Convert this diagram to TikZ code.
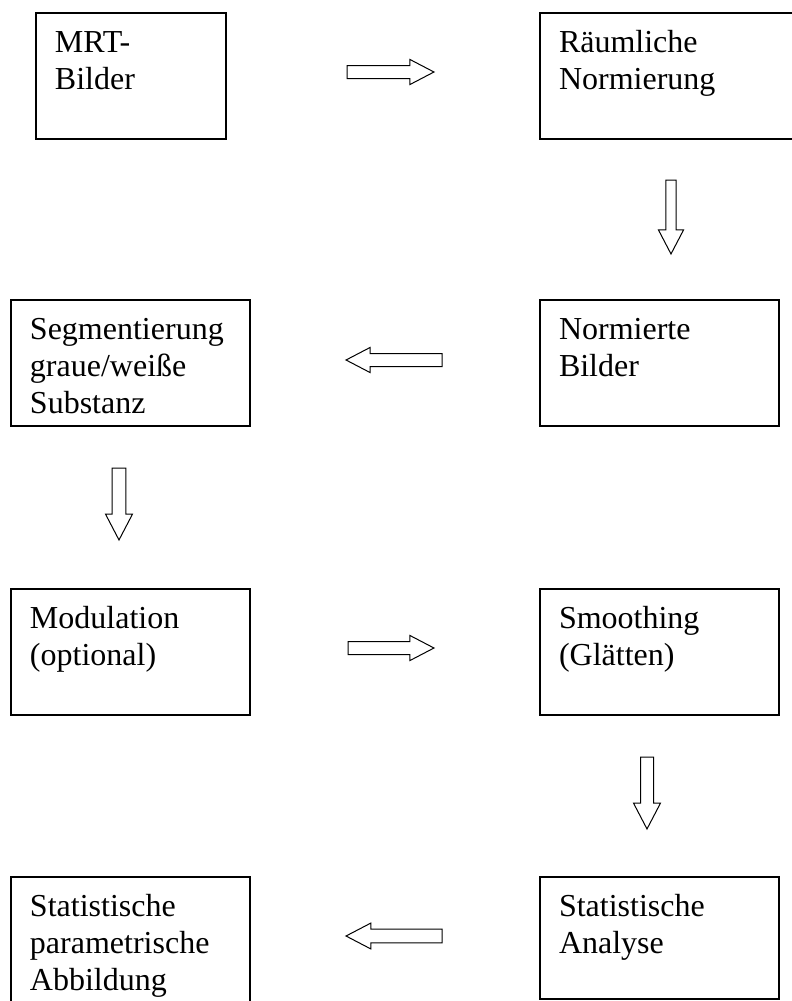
\documentclass[tikz,border=0pt]{standalone}
\usepackage{fontspec}
\setmainfont{Liberation Serif}
\usepackage{tikz}
\usetikzlibrary{shapes.arrows}

\newcommand{\kasten}[3]{\parbox[c][#2][t]{#1}{\leftskip=14.25pt\fontsize{24}{27.75}\selectfont\rule{0pt}{29.25pt}#3}}

\begin{document}
\begin{tikzpicture}[x=0.75pt,y=-0.75pt,
    box/.style={draw,line width=1.5pt,inner sep=0pt,outer sep=0pt,anchor=north west},
    pfeil/.style={draw,single arrow,line width=0.75pt,outer sep=0pt,single arrow tip angle=55,anchor=tail}]
    \useasboundingbox (0,0) rectangle (792,1001);
    \clip (0,0) rectangle (792,1001);
    \node[box] (mrt) at (36,13) {\kasten{142.5pt}{94.5pt}{MRT-\\Bilder}};
    \node[box] (raeum) at (540,13) {\kasten{195pt}{94.5pt}{Räumliche\\Normierung}};
    \node[box] (normiert) at (540,300) {\kasten{179.25pt}{94.5pt}{Normierte\\Bilder}};
    \node[box] (segment) at (11,300) {\kasten{179.25pt}{94.5pt}{Segmentierung\\graue/weiße\\Substanz}};
    \node[box] (modul) at (11,589) {\kasten{179.25pt}{94.5pt}{Modulation\\(optional)}};
    \node[box] (glatt) at (540,589) {\kasten{179.25pt}{94.5pt}{Smoothing\\(Glätten)}};
    \node[box] (analyse) at (540,877) {\kasten{179.25pt}{91.5pt}{Statistische\\Analyse}};
    \node[box] (spm) at (11,877) {\kasten{179.25pt}{96pt}{Statistische\\parametrische\\Abbildung}};
    \node[pfeil,inner sep=4.5pt,minimum height=65.25pt,single arrow head extend=4.5pt] (p1) at (347,72) {};
    \node[pfeil,inner sep=3.4pt,minimum height=55.5pt,single arrow head extend=5.6pt,shape border rotate=270] (p2) at (671,180) {};
    \node[pfeil,inner sep=4.5pt,minimum height=72pt,single arrow head extend=4.5pt,shape border rotate=180] (p3) at (442,360) {};
    \node[pfeil,inner sep=4.8pt,minimum height=54pt,single arrow head extend=4.9pt,shape border rotate=270] (p4) at (119,468) {};
    \node[pfeil,inner sep=4.5pt,minimum height=64.5pt,single arrow head extend=4.5pt] (p5) at (348,648) {};
    \node[pfeil,inner sep=4.5pt,minimum height=54pt,single arrow head extend=5.25pt,shape border rotate=270] (p6) at (647,757) {};
    \node[pfeil,inner sep=4.8pt,minimum height=72pt,single arrow head extend=4.5pt,shape border rotate=180] (p7) at (442,936) {};
\end{tikzpicture}
\end{document}
